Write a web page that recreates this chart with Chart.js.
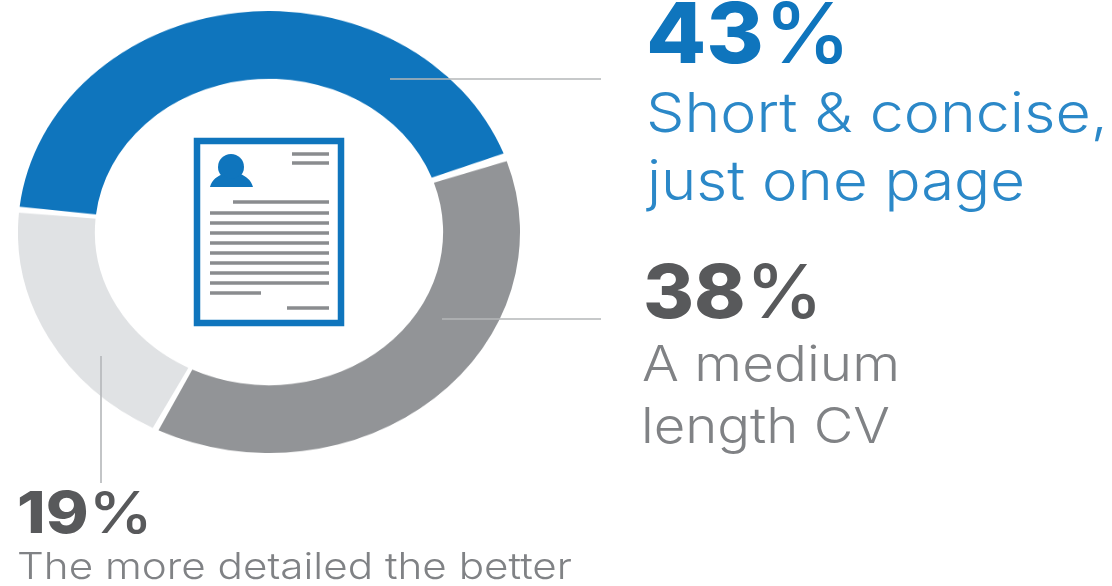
<!DOCTYPE html>
<html>
<head>
<meta charset="utf-8">
<title>CV length</title>
<script src="https://cdn.jsdelivr.net/npm/chart.js@4"></script>
<style>
  html, body { margin: 0; padding: 0; background: #fff; overflow: hidden; }
  #stage { position: relative; width: 1112px; height: 586px; }
  /* the ring is an ellipse, so the square canvas gets squashed by css;
     important because chart.js writes its own inline size */
  #ring { position: absolute; left: 18px; top: 11px; width: 502px !important; height: 442px !important; }
  #overlay { position: absolute; left: 0; top: 0; }
</style>
</head>
<body>
<div id="stage">
  <canvas id="ring" width="502" height="502"></canvas>
  <svg id="overlay" width="1112" height="586" xmlns="http://www.w3.org/2000/svg"></svg>
</div>
<script>
const categories = ['Short & concise, just one page', 'A medium length CV', 'The more detailed the better'];
const shares = [43, 38, 19];
const sliceColors = ['#0f75bd', '#929497', '#e0e2e4'];

new Chart(document.getElementById('ring'), {
  type: 'doughnut',
  data: {
    labels: categories,
    datasets: [{
      data: shares,
      backgroundColor: sliceColors,
      borderWidth: 0,
      spacing: 6,
    }],
  },
  options: {
    responsive: false,
    animation: false,
    cutout: '69%',
    rotation: -84.5,
    layout: { padding: 0 },
    plugins: {
      legend: { display: false },
      title: { display: false },
      tooltip: { enabled: false },
    },
  },
});

const svg = document.getElementById('overlay');
const NS = 'http://www.w3.org/2000/svg';

function add(tag, attrs, text, parent) {
  const el = document.createElementNS(NS, tag);
  for (const k in attrs) el.setAttribute(k, attrs[k]);
  if (text) el.textContent = text;
  (parent || svg).appendChild(el);
  return el;
}

// leader lines from the ring out to the labels
const LEADER = '#b4b7b9';
add('line', { x1: 390, y1: 79, x2: 601, y2: 79, stroke: LEADER, 'stroke-width': 1.6 });
add('line', { x1: 442, y1: 319, x2: 601, y2: 319, stroke: LEADER, 'stroke-width': 1.6 });
add('line', { x1: 101, y1: 356, x2: 101, y2: 483, stroke: LEADER, 'stroke-width': 1.6 });

// document icon in the hole
const BLUE = '#0f75bd';
add('rect', { x: 197, y: 141, width: 144, height: 182, fill: '#fff', stroke: BLUE, 'stroke-width': 6.5 });
add('circle', { cx: 231, cy: 167, r: 13, fill: BLUE });
add('path', { d: 'M210 187 C212 179 218 176 223 174 C227 180 236 180 240 174 C246 176 251 180 253 187 Z', fill: BLUE });

const docLines = [
  [292, 329, 154], [292, 329, 163], [233, 329, 202],
  [210, 329, 213], [210, 329, 223], [210, 329, 233], [210, 329, 243],
  [210, 329, 253], [210, 329, 263], [210, 329, 273], [210, 329, 283],
  [210, 261, 293], [287, 329, 308],
];
docLines.forEach(([x1, x2, y]) => {
  add('line', { x1, x2, y1: y, y2: y, stroke: '#8a8c8f', 'stroke-width': 3.4 });
});

const DARK = '#58595b';
function textAttrs(x, y, width, size, weight, fill) {
  return {
    x, y, fill,
    'font-family': 'Inter, sans-serif',
    'font-size': size,
    'font-weight': weight,
    textLength: width,
    lengthAdjust: 'spacingAndGlyphs',
  };
}

function label(str, x, y, width, size, fill) {
  add('text', textAttrs(x, y, width, size, 300, fill), str);
}

// heavy digits with a lighter percent sign
function bigShare(value, x, y, width, size, fill) {
  const t = add('text', textAttrs(x, y, width, size, 800, fill));
  add('tspan', {}, String(value), t);
  add('tspan', { 'font-weight': 500 }, '%', t);
}

bigShare(shares[0], 646, 63, 205, 84, BLUE);
label('Short & concise,', 646, 132, 462, 55, '#2b88c8');
label('just one page', 647, 200, 378, 55, '#2b88c8');

bigShare(shares[1], 643, 318, 180, 74, DARK);
label('A medium', 642, 381, 258, 49, '#808285');
label('length CV', 641, 443, 249, 49, '#808285');

bigShare(shares[2], 17, 533, 136, 58, DARK);
label('The more detailed the better', 17, 579, 555, 37, '#808285');
</script>
</body>
</html>
